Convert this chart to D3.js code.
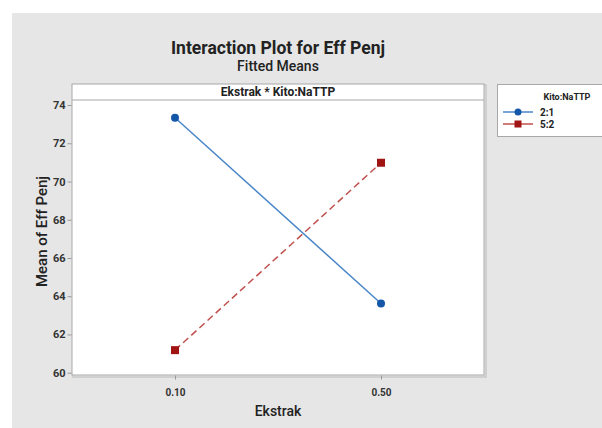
<!DOCTYPE html>
<html>
<head>
<meta charset="utf-8">
<script src="https://cdn.jsdelivr.net/npm/d3@7"></script>
<style>
  body { margin: 0; background: #fff; }
  text { font-family: Roboto, 'Noto Sans', sans-serif; }
</style>
</head>
<body>
<svg id="chart" width="602" height="428"></svg>
<script>
let levels = ['0.10', '0.50'];
let groups = ['2:1', '5:2'];
let means21 = [73.33, 63.62];
let means52 = [61.18, 70.98];
let yTicks = [60, 62, 64, 66, 68, 70, 72, 74];

let colors = ['#1456a8', '#a11414'];
let lineColors = ['#4a86c8', '#c0504d'];

let plotLeft = 72;
let plotRight = 484;
let plotTop = 100;
let plotBottom = 375;
let headerTop = 84;

const svg = d3.select('#chart');

// grey background
svg.append('rect')
  .attr('x', 12).attr('y', 13)
  .attr('width', 590).attr('height', 415)
  .attr('fill', '#e6e6e6');

svg.append('text')
  .attr('x', (plotLeft + plotRight) / 2).attr('y', 54)
  .attr('text-anchor', 'middle')
  .attr('font-size', 17.5).attr('font-weight', 'bold')
  .attr('fill', '#222')
  .text('Interaction Plot for Eff Penj');

svg.append('text')
  .attr('x', (plotLeft + plotRight) / 2).attr('y', 71)
  .attr('text-anchor', 'middle')
  .attr('font-size', 14).attr('font-weight', 500)
  .attr('fill', '#222')
  .text('Fitted Means');

// shadow + box
svg.append('rect')
  .attr('x', plotLeft + 1).attr('y', headerTop + 1)
  .attr('width', plotRight - plotLeft + 1).attr('height', plotBottom - headerTop + 1)
  .attr('fill', 'none').attr('stroke', '#c8c8c8').attr('stroke-width', 1.5);

svg.append('rect')
  .attr('x', plotLeft).attr('y', headerTop)
  .attr('width', plotRight - plotLeft).attr('height', plotBottom - headerTop)
  .attr('fill', '#fff').attr('stroke', '#a8a8a8');

svg.append('line')
  .attr('x1', plotLeft).attr('x2', plotRight)
  .attr('y1', plotTop).attr('y2', plotTop)
  .attr('stroke', '#a8a8a8');

svg.append('text')
  .attr('x', (plotLeft + plotRight) / 2).attr('y', 96)
  .attr('text-anchor', 'middle')
  .attr('font-size', 12).attr('font-weight', 'bold')
  .attr('fill', '#222')
  .text('Ekstrak * Kito:NaTTP');

let xScale = d3.scalePoint()
  .domain(levels)
  .range([plotLeft, plotRight])
  .padding(0.5);

let yScale = d3.scaleLinear()
  .domain([60, 74])
  .range([372.7, 105]);

let yAxis = d3.axisLeft(yScale)
  .tickValues(yTicks)
  .tickSize(4)
  .tickPadding(2);

let yg = svg.append('g')
  .attr('transform', 'translate(' + (plotLeft - 0.5) + ',0)')
  .call(yAxis);
yg.select('.domain').remove();
yg.selectAll('line').attr('stroke', '#999');
yg.selectAll('text')
  .attr('font-size', 11).attr('font-weight', 'bold').attr('fill', '#333');

let xAxis = d3.axisBottom(xScale)
  .tickSize(4)
  .tickPadding(9);

let xg = svg.append('g')
  .attr('transform', 'translate(0,' + (plotBottom + 0.5) + ')')
  .call(xAxis);
xg.select('.domain').remove();
xg.selectAll('line').attr('stroke', '#999');
xg.selectAll('text')
  .attr('font-size', 10).attr('font-weight', 'bold').attr('fill', '#333');

svg.append('text')
  .attr('x', (plotLeft + plotRight) / 2).attr('y', 416)
  .attr('text-anchor', 'middle')
  .attr('font-size', 14).attr('font-weight', 500)
  .attr('fill', '#222')
  .text('Ekstrak');

svg.append('text')
  .attr('transform', 'translate(47,' + ((plotTop + plotBottom) / 2 - 6) + ') rotate(-90)')
  .attr('text-anchor', 'middle')
  .attr('font-size', 15).attr('font-weight', 500)
  .attr('fill', '#222')
  .text('Mean of Eff Penj');

let series = [means21, means52];
let line = d3.line()
  .x(function (d, i) { return xScale(levels[i]); })
  .y(function (d) { return yScale(d); });

series.forEach(function (s, k) {
  svg.append('path')
    .attr('d', line(s))
    .attr('fill', 'none')
    .attr('stroke', lineColors[k])
    .attr('stroke-width', 1.5)
    .attr('stroke-dasharray', k === 1 ? '7,4' : null);
});

svg.append('g').selectAll('circle')
  .data(means21)
  .enter()
  .append('circle')
  .attr('cx', function (d, i) { return xScale(levels[i]); })
  .attr('cy', function (d) { return yScale(d); })
  .attr('r', 4)
  .attr('fill', colors[0]);

svg.append('g').selectAll('rect')
  .data(means52)
  .enter()
  .append('rect')
  .attr('x', function (d, i) { return xScale(levels[i]) - 4; })
  .attr('y', function (d) { return yScale(d) - 4; })
  .attr('width', 8).attr('height', 8)
  .attr('fill', colors[1]);

// legend
let legend = svg.append('g');
legend.append('rect')
  .attr('x', 497.5).attr('y', 84.5)
  .attr('width', 110).attr('height', 52)
  .attr('fill', '#fff').attr('stroke', '#a8a8a8');
legend.append('text')
  .attr('x', 567).attr('y', 100)
  .attr('text-anchor', 'middle')
  .attr('font-size', 9).attr('font-weight', 'bold').attr('fill', '#222')
  .text('Kito:NaTTP');

groups.forEach(function (g, k) {
  let y = 112 + k * 12;
  legend.append('line')
    .attr('x1', 503).attr('x2', 533)
    .attr('y1', y).attr('y2', y)
    .attr('stroke', lineColors[k]).attr('stroke-width', 1.5);
  if (k === 0) {
    legend.append('circle').attr('cx', 518).attr('cy', y).attr('r', 3.5).attr('fill', colors[0]);
  } else {
    legend.append('rect').attr('x', 514.5).attr('y', y - 3.5)
      .attr('width', 7).attr('height', 7).attr('fill', colors[1]);
  }
  legend.append('text')
    .attr('x', 540).attr('y', y + 3.5)
    .attr('font-size', 10).attr('font-weight', 'bold').attr('fill', '#222')
    .text(g);
});
</script>
</body>
</html>
